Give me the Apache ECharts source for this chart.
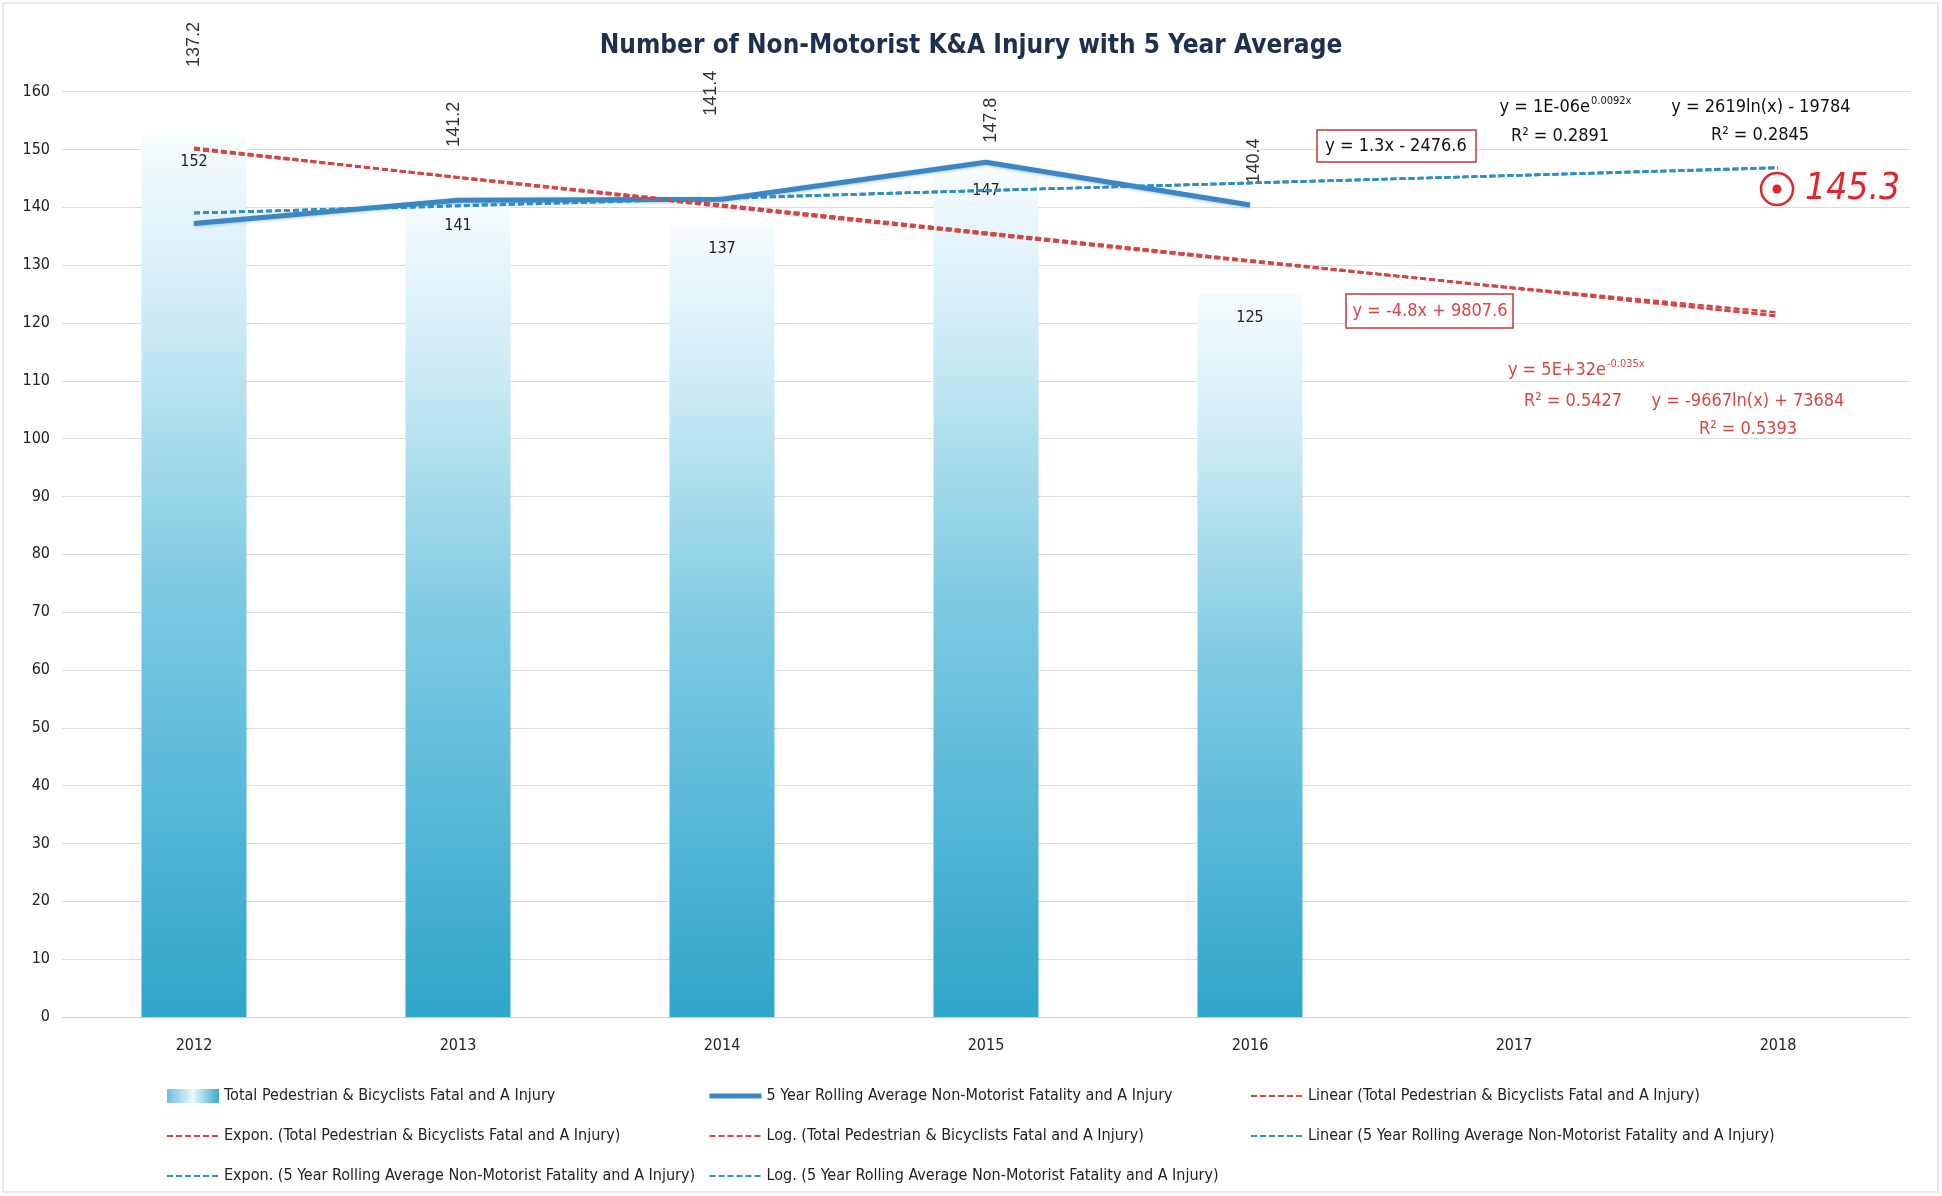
<!DOCTYPE html>
<html><head><meta charset="utf-8">
<script src="https://cdn.jsdelivr.net/npm/echarts@6/dist/echarts.min.js"></script>
<style>html,body{margin:0;padding:0;background:#fff}#c{width:1942px;height:1196px}</style>
</head><body><div id="c"></div>
<script>
// ---- data ----
const years = ['2012', '2013', '2014', '2015', '2016', '2017', '2018'];
const totalKA = [152, 141, 137, 147, 125];
const rollingAvg = [137.2, 141.2, 141.4, 147.8, 140.4];
const linearTotal = [150.0, 145.2, 140.4, 135.6, 130.8, 126.0, 121.2];
const exponTotal = [150.3, 145.1, 140.1, 135.3, 130.6, 126.1, 121.8];
const logTotal = [150.1, 145.2, 140.4, 135.6, 130.8, 126.0, 121.2];
const linearAvg = [139.0, 140.3, 141.6, 142.9, 144.2, 145.5, 146.8];
const exponAvg = [139.0, 140.2, 141.5, 142.9, 144.2, 145.5, 146.9];
const logAvg = [139.0, 140.3, 141.6, 142.9, 144.2, 145.5, 146.8];
const yTicks = {min: 0, max: 160, step: 10};

// ---- names ----
const nTotal = 'Total Pedestrian & Bicyclists Fatal and A Injury';
const nAvg = '5 Year Rolling Average Non-Motorist Fatality and A Injury';
const nLinT = 'Linear (Total Pedestrian & Bicyclists Fatal and A Injury)';
const nExpT = 'Expon. (Total Pedestrian & Bicyclists Fatal and A Injury)';
const nLogT = 'Log. (Total Pedestrian & Bicyclists Fatal and A Injury)';
const nLinA = 'Linear (5 Year Rolling Average Non-Motorist Fatality and A Injury)';
const nExpA = 'Expon. (5 Year Rolling Average Non-Motorist Fatality and A Injury)';
const nLogA = 'Log. (5 Year Rolling Average Non-Motorist Fatality and A Injury)';

// ---- layout / style (not data) ----
const FN = "'Liberation Sans Narrow','DejaVu Sans Condensed','Noto Sans',sans-serif";
const FN2 = "'Liberation Sans','DejaVu Sans',sans-serif";
const RED = '#d64545';
const BLUE_D = '#2f8ec4';
const BLUE_L = '#3b86c4';
// [screen dx, lift above point] for the rotated average labels
const avgLabelShift = [[0, 179], [-4, 76], [-11, 106], [5, 42], [4, 44]];

const barGrad = {type: 'linear', x: 0, y: 0, x2: 0, y2: 1, colorStops: [
  {offset: 0, color: '#f7fcfe'},
  {offset: 0.2, color: '#cdebf5'},
  {offset: 0.5, color: '#80cbe3'},
  {offset: 1, color: '#2ea5ca'}
]};
const legendBarGrad = {type: 'linear', x: 0, y: 0, x2: 1, y2: 0, colorStops: [
  {offset: 0, color: '#6cc0de'},
  {offset: 0.5, color: '#e9f6fb'},
  {offset: 1, color: '#3aaacd'}
]};

function trend(name, data, color) {
  return {
    name, type: 'line', data, symbol: 'none', z: 4,
    lineStyle: {color, width: 2.6, type: [6, 3]},
    itemStyle: {color},
    emphasis: {disabled: true}, silent: true
  };
}

function lg(name, extra) {
  return Object.assign({name, itemStyle: {opacity: 0}}, extra || {});
}

function legendCol(left, items) {
  return {
    orient: 'vertical', left, top: 1083, itemWidth: 52, itemHeight: 14, itemGap: 24,
    data: items, selectedMode: false,
    textStyle: {fontFamily: FN, fontSize: 16, color: '#222'}
  };
}

function txt(x, y, text, opts) {
  const o = Object.assign({size: 18, color: '#111', align: 'left', weight: 'normal', style: 'normal', family: FN}, opts || {});
  return {
    type: 'text', x, y, z: 50,
    style: {
      text, fill: o.color,
      font: o.style + ' ' + o.weight + ' ' + o.size + 'px ' + o.family,
      align: o.align, verticalAlign: 'middle',
      textAlign: o.align, textVerticalAlign: 'middle'
    }
  };
}

const chart = echarts.init(document.getElementById('c'));
chart.setOption({
  animation: false,
  backgroundColor: '#fff',
  title: {
    text: 'Number of Non-Motorist K&A Injury with 5 Year Average',
    left: 'center', top: 28,
    textStyle: {fontFamily: FN, fontSize: 26, fontWeight: 'bold', color: '#1e3050'}
  },
  grid: {left: 62, right: 32, top: 91.6, bottom: 179, containLabel: false, outerBoundsMode: 'none'},
  xAxis: {
    type: 'category', data: years, boundaryGap: true,
    axisLine: {lineStyle: {color: '#cfcfcf'}},
    axisTick: {show: false},
    axisLabel: {fontFamily: FN, fontSize: 16, color: '#222', margin: 21}
  },
  yAxis: {
    type: 'value', min: yTicks.min, max: yTicks.max, interval: yTicks.step,
    axisLine: {show: false}, axisTick: {show: false},
    splitLine: {lineStyle: {color: '#dadada', width: 1}},
    axisLabel: {fontFamily: FN, fontSize: 16, color: '#222', margin: 12}
  },
  legend: [
    legendCol(161, [{name: nTotal, icon: 'rect', itemStyle: {color: legendBarGrad}}, lg(nExpT), lg(nExpA)]),
    legendCol(702, [lg(nAvg, {lineStyle: {width: 5}}), lg(nLogT), lg(nLogA)]),
    legendCol(1245, [lg(nLinT), lg(nLinA)])
  ],
  series: [
    {
      name: nTotal, type: 'bar', data: totalKA, barWidth: 105, z: 2,
      itemStyle: {color: barGrad},
      label: {show: true, position: 'insideTop', distance: 16,
        fontFamily: FN, fontSize: 16, color: '#222'}
    },
    {
      name: nAvg, type: 'line', z: 3, symbol: 'circle', symbolSize: 2,
      data: rollingAvg.map((v, i) => ({value: v,
        // label offset is applied in the rotated frame
        label: {offset: [avgLabelShift[i][1], avgLabelShift[i][0]]}})),
      lineStyle: {color: BLUE_L, width: 5, shadowColor: 'rgba(40,100,160,0.35)', shadowBlur: 3, shadowOffsetY: 1},
      itemStyle: {color: 'rgba(0,0,0,0)'},
      label: {show: true, position: 'inside', rotate: 90, fontFamily: FN2, fontSize: 18, color: '#333'}
    },
    trend(nLinT, linearTotal, RED),
    trend(nExpT, exponTotal, RED),
    trend(nLogT, logTotal, RED),
    trend(nLinA, linearAvg, BLUE_D),
    trend(nExpA, exponAvg, BLUE_D),
    trend(nLogA, logAvg, BLUE_D)
  ],
  graphic: [
    {type: 'rect', z: 0, shape: {x: 3, y: 3, width: 1935, height: 1189},
      style: {fill: 'none', stroke: '#e2e2e2', lineWidth: 1.5}},
    // blue trend equations
    txt(1590, 107, 'y = 1E-06e', {align: 'right'}),
    txt(1591, 101, '0.0092x', {size: 11}),
    txt(1560, 136, 'R² = 0.2891', {align: 'center'}),
    txt(1761, 107, 'y = 2619ln(x) - 19784', {align: 'center'}),
    txt(1760, 135, 'R² = 0.2845', {align: 'center'}),
    {type: 'rect', z: 49, shape: {x: 1317, y: 130, width: 159, height: 32},
      style: {fill: '#fff', stroke: '#c83434', lineWidth: 1.5}},
    txt(1396, 146, 'y = 1.3x - 2476.6', {align: 'center'}),
    // red trend equations
    {type: 'rect', z: 49, shape: {x: 1346, y: 294, width: 167, height: 34},
      style: {fill: '#fff', stroke: '#c83434', lineWidth: 1.5}},
    txt(1430, 311, 'y = -4.8x + 9807.6', {align: 'center', color: RED}),
    txt(1606, 370, 'y = 5E+32e', {align: 'right', color: RED}),
    txt(1607, 364, '-0.035x', {size: 11, color: RED}),
    txt(1573, 401, 'R² = 0.5427', {align: 'center', color: RED}),
    txt(1748, 401, 'y = -9667ln(x) + 73684', {align: 'center', color: RED}),
    txt(1748, 429, 'R² = 0.5393', {align: 'center', color: RED}),
    // hand annotation
    {type: 'circle', z: 50, shape: {cx: 1777, cy: 189, r: 16},
      style: {fill: 'none', stroke: '#e0262b', lineWidth: 2.5}},
    {type: 'circle', z: 50, shape: {cx: 1777, cy: 189, r: 4.5},
      style: {fill: '#e0262b'}},
    txt(1805, 189, '145.3', {size: 37, color: '#e0262b', style: 'italic', family: FN})
  ]
});
</script></body></html>
